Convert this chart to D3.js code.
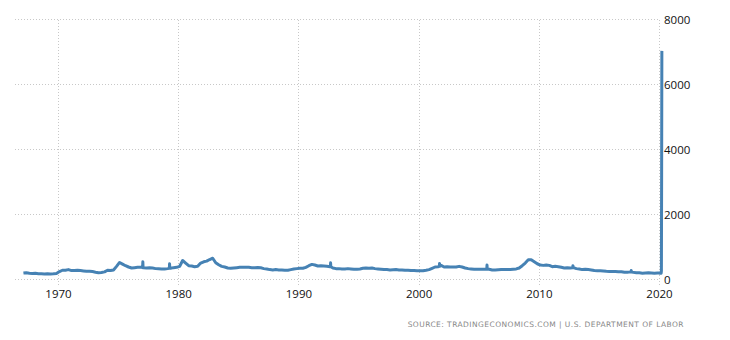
<!DOCTYPE html>
<html>
<head>
<meta charset="utf-8">
<script src="https://cdn.jsdelivr.net/npm/d3@7"></script>
<style>
  body { margin: 0; background: #fff; }
  svg { display: block; }
  .grid line { stroke: #c8c8c8; stroke-dasharray: 1,2; }
  .axis text { font-family: "Open Sans", "Liberation Sans", sans-serif; font-size: 11.5px; fill: #111; }
</style>
</head>
<body>
<svg id="chart"></svg>
<script>
// initial jobless claims, thousands - quarterly readings from the picture
const startYear = 1967;
const claims1960s = [215, 225, 210, 200, 205, 195, 190, 185, 190, 185, 190, 200];
const claims1970s = [
  260, 300, 300, 320,  290, 290, 300, 290,  280, 270, 270, 260,  240, 225, 230, 250,
  300, 290, 310, 420,  540, 490, 440, 400,  370, 380, 390, 395,  380, 370, 375, 370,
  350, 345, 340, 340,  350, 360, 380, 390
];
const claims1980s = [
  420, 600, 520, 440,  430, 410, 420, 520,  560, 580, 630, 670,  530, 470, 420, 400,
  370, 360, 370, 380,  390, 390, 395, 390,  380, 380, 385, 375,  350, 340, 320, 310,
  320, 310, 305, 300,  300, 320, 340, 350
];
const claims1990s = [
  360, 360, 390, 440,  480, 460, 430, 440,  430, 420, 410, 370,  350, 350, 340, 340,
  350, 340, 330, 330,  340, 360, 370, 360,  370, 350, 340, 330,  320, 320, 310, 315,
  320, 310, 310, 300,  300, 295, 290, 285
];
const claims2000s = [
  285, 285, 300, 320,  360, 400, 410, 450,  400, 410, 400, 400,  400, 420, 400, 370,
  350, 340, 330, 330,  330, 330, 330, 330,  310, 310, 315, 320,  320, 320, 320, 330,
  340, 370, 440, 520,  620, 620, 560, 500
];
const claims2010s = [
  460, 450, 460, 450,  410, 420, 410, 390,  370, 375, 370, 380,  350, 340, 320, 330,
  320, 310, 290, 285,  285, 280, 270, 265,  260, 265, 255, 255,  240, 240, 250, 235,
  220, 220, 210, 215,  220, 215, 210, 215
];
// single-week spikes: level the week before/after, and the peak
const spikeDates = ["1977-01-22", "1979-04-14", "1992-09-05", "2001-09-29", "2005-09-10", "2012-11-03", "2017-09-09"];
const spikeBase = [380, 360, 410, 420, 330, 375, 245];
const spikeValues = [560, 500, 530, 510, 460, 440, 290];
// 2020 weeks
const weeks2020 = ["2020-01-11", "2020-02-08", "2020-03-07", "2020-03-14", "2020-03-21", "2020-03-28"];
const claims2020 = [215, 205, 210, 280, 3307, 7050];

const yTicks = [0, 2000, 4000, 6000, 8000];
const xTickYears = [1970, 1980, 1990, 2000, 2010, 2020];
const sourceText = "SOURCE: TRADINGECONOMICS.COM | U.S. DEPARTMENT OF LABOR";

// build series
const quarterly = [].concat(claims1960s, claims1970s, claims1980s, claims1990s, claims2000s, claims2010s);
const series = quarterly.map((v, i) => {
  const yr = startYear + Math.floor(i / 4);
  const m = (i % 4) * 3 + 1;
  return { date: new Date(yr, m, 15), value: v };
});
spikeDates.forEach((d, i) => {
  const t = new Date(d);
  series.push({ date: new Date(t.getTime() - 7 * 864e5), value: spikeBase[i] });
  series.push({ date: t, value: spikeValues[i] });
  series.push({ date: new Date(t.getTime() + 7 * 864e5), value: spikeBase[i] });
});
weeks2020.forEach((d, i) => series.push({ date: new Date(d), value: claims2020[i] }));
series.sort((a, b) => a.date - b.date);

const width = 730;
const height = 340;
const plotLeft = 15;
const plotRight = 660;
const plotTop = 20;
const plotBottom = 280;

const svg = d3.select('#chart')
  .attr('width', width)
  .attr('height', height);

const x = d3.scaleTime()
  .domain([new Date(1970, 0, 1), new Date(2020, 0, 1)])
  .range([58, 659]);

const y = d3.scaleLinear()
  .domain([0, 8000])
  .range([plotBottom, plotTop]);

// horizontal grid
svg.append('g')
  .attr('class', 'grid')
  .selectAll('line')
  .data(yTicks)
  .enter()
  .append('line')
  .attr('x1', plotLeft)
  .attr('x2', plotRight)
  .attr('y1', d => Math.round(y(d)) - 0.5)
  .attr('y2', d => Math.round(y(d)) - 0.5);

// vertical grid
svg.append('g')
  .attr('class', 'grid')
  .selectAll('line')
  .data(xTickYears)
  .enter()
  .append('line')
  .attr('x1', d => Math.round(x(new Date(d, 0, 1))) + 0.5)
  .attr('x2', d => Math.round(x(new Date(d, 0, 1))) + 0.5)
  .attr('y1', plotTop)
  .attr('y2', plotBottom + 5);

// line
const line = d3.line()
  .x(d => x(d.date))
  .y(d => y(d.value));

svg.append('path')
  .datum(series)
  .attr('fill', 'none')
  .attr('stroke', '#4682b4')
  .attr('stroke-width', 3)
  .attr('stroke-linejoin', 'round')
  .attr('d', line);

// axes
const xAxis = d3.axisBottom(x)
  .tickValues(xTickYears.map(d => new Date(d, 0, 1)))
  .tickFormat(d3.timeFormat('%Y'))
  .tickSize(0)
  .tickPadding(10);

svg.append('g')
  .attr('class', 'axis')
  .attr('transform', `translate(0, ${plotBottom})`)
  .call(xAxis)
  .call(g => g.select('.domain').remove());

const yAxis = d3.axisRight(y)
  .tickValues(yTicks)
  .tickFormat(d3.format('d'))
  .tickSize(0)
  .tickPadding(4);

svg.append('g')
  .attr('class', 'axis')
  .attr('transform', `translate(${plotRight}, 0)`)
  .call(yAxis)
  .call(g => g.select('.domain').remove());

svg.append('text')
  .attr('x', 684)
  .attr('y', 327)
  .attr('text-anchor', 'end')
  .style('font-family', '"DejaVu Sans", sans-serif')
  .style('font-size', '7.5px')
  .style('letter-spacing', '0.45px')
  .style('fill', '#888')
  .text(sourceText);
</script>
</body>
</html>
